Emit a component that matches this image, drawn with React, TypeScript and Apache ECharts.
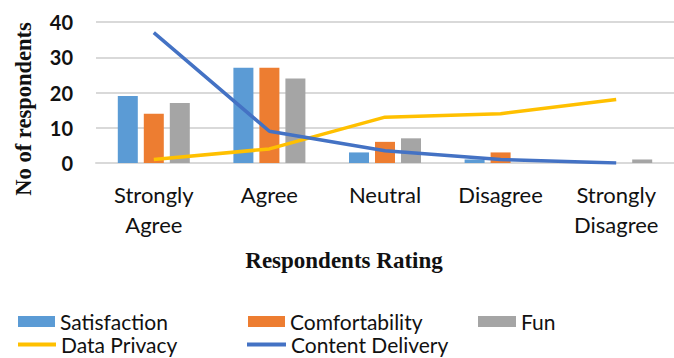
import React, { useEffect, useRef } from "react";
import * as echarts from "echarts";

const categories = ["Strongly\nAgree", "Agree", "Neutral", "Disagree", "Strongly\nDisagree"];
const satisfaction = [19, 27, 3, 1, 0];
const comfortability = [14, 27, 6, 3, 0];
const fun = [17, 24, 7, 0, 1];
const dataPrivacy = [1, 4, 13, 14, 18];
const contentDelivery = [37, 9, 3.5, 1, 0];
const yTicks = { min: 0, max: 40, interval: 10 };

const SANS = "Lato, 'Open Sans', sans-serif";
const SERIF = "'Liberation Serif', 'DejaVu Serif', serif";

export default function App() {
  const ref = useRef<HTMLDivElement>(null);
  useEffect(() => {
    const chart = echarts.init(ref.current!, undefined, { renderer: "svg" });
    const legendText = { fontFamily: SANS, fontSize: 21, lineHeight: 21, color: "#111" };
    const barLegend = (name: string, left: number, w: number) => ({
      data: [name], left, top: 311, itemWidth: w, itemHeight: 11, itemGap: 4,
      icon: "rect", textStyle: legendText, padding: 0,
    });
    const lineLegend = (name: string, left: number, w: number) => ({
      data: [name], left, top: 334, itemWidth: w, itemHeight: 4, itemGap: 3,
      icon: "rect", textStyle: legendText, padding: 0,
    });
    chart.setOption({
      animation: false,
      backgroundColor: "#fff",
      grid: { left: 96, right: -4, top: 22, bottom: 195, containLabel: false },
      xAxis: {
        type: "category",
        data: categories,
        axisLine: { lineStyle: { color: "#d9d9d9", width: 2 } },
        axisTick: { show: false },
        axisLabel: { fontFamily: SANS, fontSize: 22, color: "#111", margin: 16, lineHeight: 30, interval: 0 },
      },
      yAxis: {
        type: "value",
        min: yTicks.min, max: yTicks.max, interval: yTicks.interval,
        axisLine: { show: false },
        splitLine: { lineStyle: { color: "#d9d9d9", width: 2 } },
        axisLabel: { fontFamily: SANS, fontSize: 20, fontWeight: "bold", color: "#111", margin: 23 },
      },
      legend: [
        barLegend("Satisfaction", 18, 37),
        barLegend("Comfortability", 248, 37),
        barLegend("Fun", 478, 38),
        lineLegend("Data Privacy", 18, 38),
        lineLegend("Content Delivery", 247, 39),
      ],
      graphic: [
        {
          type: "text", x: 23, y: 109, rotation: Math.PI / 2,
          style: { text: "No of respondents", font: `bold 22.5px ${SERIF}`, fill: "#111", textAlign: "center", textVerticalAlign: "middle" },
        },
        {
          type: "text", x: 344, y: 260,
          style: { text: "Respondents Rating", font: `bold 23px ${SERIF}`, fill: "#111", textAlign: "center", textVerticalAlign: "middle" },
        },
      ],
      series: [
        { name: "Satisfaction", type: "bar", data: satisfaction, barWidth: 20, barGap: "30%", itemStyle: { color: "#5B9BD5" } },
        { name: "Comfortability", type: "bar", data: comfortability, barWidth: 20, barGap: "30%", itemStyle: { color: "#ED7D31" } },
        { name: "Fun", type: "bar", data: fun, barWidth: 20, barGap: "30%", itemStyle: { color: "#A5A5A5" } },
        { name: "Data Privacy", type: "line", data: dataPrivacy, symbol: "none", lineStyle: { color: "#FFC000", width: 3.5 }, itemStyle: { color: "#FFC000" } },
        { name: "Content Delivery", type: "line", data: contentDelivery, symbol: "none", lineStyle: { color: "#4472C4", width: 3.5 }, itemStyle: { color: "#4472C4" } },
      ],
    });
    return () => chart.dispose();
  }, []);
  return <div ref={ref} style={{ width: 674, height: 358, position: "absolute", left: 0, top: 0 }} />;
}
